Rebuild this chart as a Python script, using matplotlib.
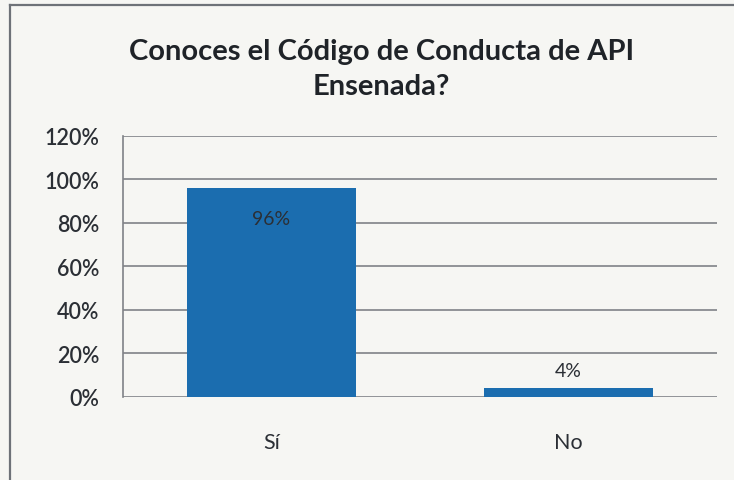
import matplotlib.pyplot as plt
from matplotlib.lines import Line2D
from matplotlib.ticker import FuncFormatter

plt.rcParams['font.family'] = ['Lato', 'DejaVu Sans']

categorias = ['Sí', 'No']
valores = [0.96, 0.04]
etiquetas = ['96%', '4%']
yticks = [0, 0.2, 0.4, 0.6, 0.8, 1.0, 1.2]

fondo = '#f6f6f3'
azul = '#1b6daf'
texto = '#2b2f35'

fig = plt.figure(figsize=(7.34, 4.81), dpi=100, facecolor=fondo)
ax = fig.add_axes([0.1676, 0.1726, 0.8094, 0.5426])
ax.set_facecolor(fondo)

x = range(len(categorias))
ax.bar(x, valores, width=0.57, color=azul, zorder=3)

ax.set_xlim(-0.5, 1.5)
ax.set_ylim(0, 1.2)
ax.set_yticks(yticks)
ax.yaxis.set_major_formatter(FuncFormatter(lambda v, p: f'{v*100:.0f}%'))
ax.set_xticks(list(x))
ax.set_xticklabels(categorias)
ax.tick_params(axis='both', length=0, labelsize=15.5, colors=texto)
ax.tick_params(axis='x', pad=25)
ax.tick_params(axis='y', pad=17)
for lab in ax.get_yticklabels():
    lab.set_fontweight('semibold')

ax.grid(axis='y', color='#808287', linewidth=1.2, zorder=0)
for s in ['top', 'right', 'bottom']:
    ax.spines[s].set_visible(False)
ax.spines['left'].set_color('#808287')
ax.spines['left'].set_linewidth(1.2)

# etiquetas de datos
ax.text(0, valores[0] - 0.14, etiquetas[0], ha='center', va='center',
        fontsize=14, color=texto)
ax.text(1, valores[1] + 0.08, etiquetas[1], ha='center', va='center',
        fontsize=14, color=texto)

fig.text(0.520, 0.855, 'Conoces el Código de Conducta de API\nEnsenada?',
         ha='center', va='center', fontsize=21, fontweight='bold',
         color='#1f2328', linespacing=1.45)

# marco del gráfico
fig.add_artist(Line2D([10/734, 10/734], [0, 1 - 6/481], color='#6e7278', linewidth=1.6))
fig.add_artist(Line2D([10/734, 1], [1 - 6/481, 1 - 6/481], color='#6e7278', linewidth=1.6))

fig.savefig('out.png', dpi=100, facecolor=fondo)
